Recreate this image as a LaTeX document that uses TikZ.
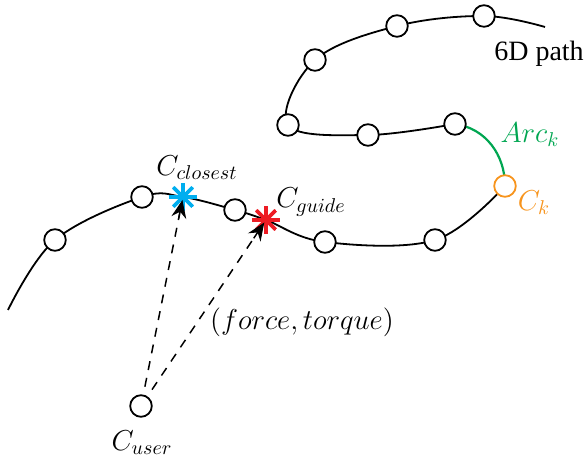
\documentclass[tikz,border=0pt]{standalone}
\usepackage{fontspec}
\setmainfont{Liberation Serif}
\usetikzlibrary{arrows.meta,calc}
\definecolor{cblue}{RGB}{0,174,239}
\definecolor{cred}{RGB}{237,28,36}
\definecolor{corange}{RGB}{247,148,29}
\definecolor{cgreen}{RGB}{0,166,81}
\begin{document}
\begin{tikzpicture}[x=0.5pt,y=0.5pt,
  dot/.style={circle,draw,fill=white,line width=0.9pt,minimum size=10.8pt,inner sep=0pt},
  curve/.style={line width=0.9pt},
  lbl/.style={font=\fontsize{14}{16}\selectfont,inner sep=0pt},
  aster/.style={circle,minimum size=14pt,inner sep=0pt,
    path picture={\foreach \a in {0,45,90,135}{\draw[#1,line width=1.9pt] (path picture bounding box.center) ++(\a:7pt) -- ++(\a+180:14pt);}}},
  guide/.style={dash pattern=on 4.5pt off 4pt,line width=0.75pt,shorten >=9pt,shorten <=4pt},
  tip/.style={solid,line width=0.75pt,-{Stealth[length=9pt,width=7.5pt,inset=3pt]},shorten >=1.5pt}]
\useasboundingbox (0,0) rectangle (587,458);
% path points
\coordinate (pS) at (8,148);
\coordinate (pL1) at (55,218);
\coordinate (pL2) at (142,261);
\coordinate (pBlue) at (183,261);
\coordinate (pL3) at (235,248);
\coordinate (pRed) at (266,238);
\coordinate (pB2) at (325,216);
\coordinate (pB1) at (435,218);
\coordinate (pCk) at (505,272);
\coordinate (pA6) at (455,334);
\coordinate (pA5) at (368,323);
\coordinate (pA4) at (288,333);
\coordinate (pA3) at (315,398);
\coordinate (pA2) at (397,432);
\coordinate (pA1) at (484,442);
\coordinate (pE) at (545,431);
% the path
\draw[curve] plot[smooth,tension=0.6] coordinates {(pS) (pL1) (pL2) (pBlue) (pL3) (pRed) (pB2) (pB1) (pCk)};
\draw[curve,cgreen,line width=1.1pt] (pCk) to[out=90,in=-8] (pA6);
\draw[curve] plot[smooth,tension=0.6] coordinates {(pA6) (pA5) (pA4) (pA3) (pA2) (pA1) (pE)};
% markers
\foreach \n in {L1,L2,L3,B2,B1,A6,A5,A4,A3,A2,A1}{\node[dot] (\n) at (p\n) {};}
\node[dot,draw=corange] (Ck) at (pCk) {};
\node[aster=cblue] (closest) at (pBlue) {};
\node[aster=cred] (guidept) at (pRed) {};
\node[dot] (user) at (141,52) {};
% arrows
\draw[guide] (user) -- (closest.center);
\draw[guide] (user) -- (guidept.center);
\draw[tip] ($(closest.center)!11pt!(user)$) -- (closest.center);
\draw[tip] ($(guidept.center)!11pt!(user)$) -- (guidept.center);
% labels
\node[lbl] (tpath) at (539,404) {6D path};
\node[lbl,text=cgreen] (tarc) at (530,323) {$Arc_k$};
\node[lbl,text=corange] (tck) at (534,255) {$C_k$};
\node[lbl] (tclosest) at (197,290) {$C_{closest}$};
\node[lbl] (tguide) at (311,256) {$C_{guide}$};
\node[lbl] (tforce) at (302,136) {$(force,torque)$};
\node[lbl] (tuser) at (142,15) {$C_{user}$};
\end{tikzpicture}
\end{document}
